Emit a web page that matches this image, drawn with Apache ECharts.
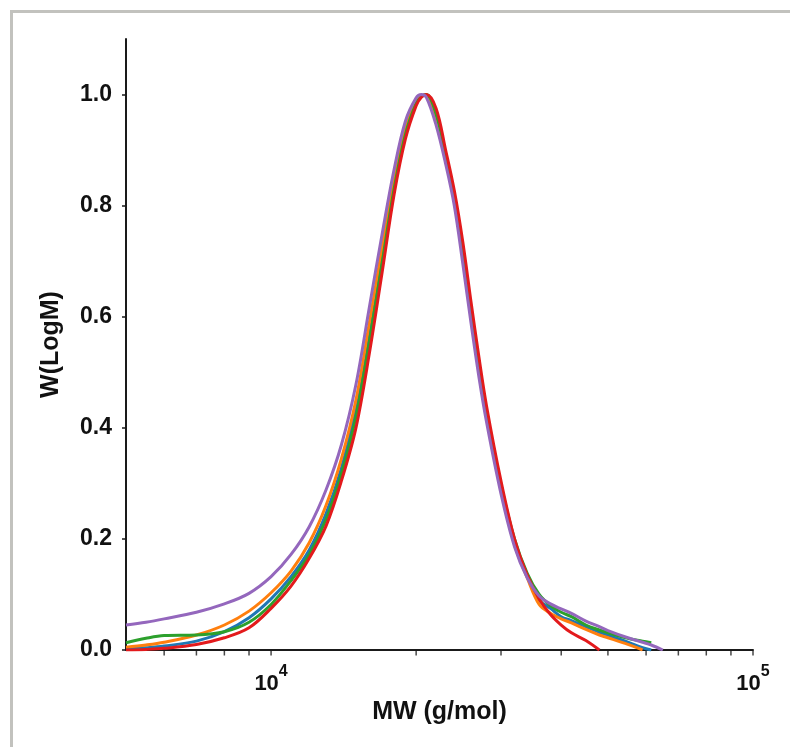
<!DOCTYPE html>
<html>
<head>
<meta charset="utf-8">
<title>W(LogM)</title>
<script src="https://cdn.jsdelivr.net/npm/echarts@6/dist/echarts.min.js"></script>
<style>
  html, body { margin: 0; padding: 0; background: #fff; }
  #chart { width: 790px; height: 747px; }
</style>
</head>
<body>
<div id="chart"></div>
<script>
  // molecular weight grid (g/mol), shared by all curves
  const mw = [5000, 5500, 6000, 7000, 8000, 9000, 10000, 11000, 12000, 13000,
    14000, 15000, 16000, 17000, 18000, 19000, 20000, 20500, 21000, 22000,
    23000, 24000, 25000, 26000, 27000, 28000, 30000, 32000, 34000, 36000,
    38000, 40000, 42000, 45000, 48000, 50000, 55000, 59000, 61500, 65000]

  // W(LogM), one array per curve
  const wBlue = [0.002, 0.004, 0.007, 0.016, 0.033, 0.058, 0.092, 0.132, 0.18, 0.245,
    0.328, 0.433, 0.572, 0.71, 0.838, 0.933, 0.986, 0.997, 0.999, 0.958,
    0.888, 0.81, 0.712, 0.605, 0.505, 0.422, 0.292, 0.193, 0.133, 0.09,
    0.075, 0.06, 0.053, 0.042, 0.032, 0.027, 0.014, 0.004, 0.0, null]
  const wOrange = [0.005, 0.009, 0.014, 0.027, 0.045, 0.07, 0.103, 0.142, 0.193, 0.26,
    0.345, 0.45, 0.59, 0.725, 0.848, 0.94, 0.99, 0.998, 0.999, 0.955,
    0.885, 0.808, 0.71, 0.603, 0.503, 0.42, 0.29, 0.19, 0.13, 0.082,
    0.066, 0.056, 0.049, 0.037, 0.027, 0.022, 0.01, 0.0, null, null]
  const wGreen = [0.013, 0.021, 0.026, 0.027, 0.033, 0.05, 0.082, 0.125, 0.172, 0.235,
    0.318, 0.42, 0.556, 0.697, 0.83, 0.928, 0.984, 0.996, 1.0, 0.965,
    0.895, 0.818, 0.722, 0.615, 0.515, 0.43, 0.298, 0.2, 0.138, 0.1,
    0.08, 0.068, 0.06, 0.045, 0.036, 0.031, 0.021, 0.016, 0.013, null]
  const wRed = [0.0, 0.001, 0.003, 0.01, 0.022, 0.04, 0.075, 0.115, 0.165, 0.223,
    0.305, 0.4, 0.535, 0.68, 0.82, 0.92, 0.98, 0.995, 1.0, 0.975,
    0.902, 0.827, 0.734, 0.626, 0.527, 0.439, 0.304, 0.2, 0.135, 0.092,
    0.064, 0.045, 0.031, 0.017, 0.0, null, null, null, null, null]
  const wPurple = [0.045, 0.05, 0.056, 0.068, 0.083, 0.102, 0.132, 0.172, 0.222, 0.288,
    0.37, 0.478, 0.618, 0.749, 0.865, 0.952, 0.994, 1.0, 0.995, 0.945,
    0.877, 0.80, 0.695, 0.588, 0.491, 0.41, 0.281, 0.186, 0.13, 0.097,
    0.083, 0.074, 0.066, 0.052, 0.042, 0.035, 0.022, 0.014, 0.009, 0.0]

  // x tick positions (log axis, 1..9 x decade)
  const xTicks = [6000, 7000, 8000, 9000, 10000, 20000, 30000, 40000, 50000,
    60000, 70000, 80000, 90000, 100000]

  const font = "'Liberation Sans', Arial, sans-serif"
  const axisColor = '#1a1a1a'

  function pairs (vals) {
    return mw.map((m, i) => [m, vals[i]])
  }

  function curve (name, vals, color) {
    return {
      name: name,
      type: 'line',
      data: pairs(vals),
      smooth: 0.35,
      showSymbol: false,
      lineStyle: { width: 3, color: color },
      itemStyle: { color: color },
      z: 3
    }
  }

  const chart = echarts.init(document.getElementById('chart'))
  chart.setOption({
    animation: false,
    backgroundColor: '#fff',
    graphic: [
      { type: 'rect', shape: { x: 10, y: 10, width: 780, height: 3 }, style: { fill: '#c2c2be' } },
      { type: 'rect', shape: { x: 10, y: 10, width: 3, height: 737 }, style: { fill: '#c2c2be' } }
    ],
    grid: { left: 126, right: 37, top: 39, bottom: 97 },
    xAxis: {
      type: 'log',
      logBase: 10,
      min: 5000,
      max: 100000,
      name: 'MW (g/mol)',
      nameLocation: 'middle',
      nameGap: 50,
      nameTextStyle: { fontFamily: font, fontSize: 25, fontWeight: 'bold', color: '#111' },
      axisLine: { lineStyle: { color: axisColor, width: 2 } },
      axisTick: { show: false },
      splitLine: { show: false },
      axisLabel: {
        margin: 14,
        formatter (v) {
          const p = Math.round(Math.log10(v))
          if (Math.abs(Math.log10(v) - p) > 1e-6 || p < 4) return ''
          return '{b|10}{s|' + p + '}'
        },
        rich: {
          b: { fontFamily: font, fontSize: 22, fontWeight: 'bold', color: '#111', lineHeight: 40 },
          s: { fontFamily: font, fontSize: 16, fontWeight: 'bold', color: '#111', verticalAlign: 'top', lineHeight: 16 }
        }
      }
    },
    yAxis: {
      type: 'value',
      min: 0,
      max: 1.1,
      interval: 0.2,
      name: 'W(LogM)',
      nameLocation: 'middle',
      nameGap: 62,
      nameTextStyle: { fontFamily: font, fontSize: 25, fontWeight: 'bold', color: '#111' },
      axisLine: { show: true, lineStyle: { color: axisColor, width: 2 } },
      axisTick: { show: true, length: 4, lineStyle: { color: axisColor, width: 1.5 } },
      splitLine: { show: false },
      axisLabel: {
        margin: 14,
        showMaxLabel: false,
        fontFamily: font,
        fontSize: 23,
        fontWeight: 'bold',
        color: '#111',
        formatter: v => v.toFixed(1)
      }
    },
    series: [
      {
        name: 'ticks',
        type: 'scatter',
        data: xTicks.map(t => [t, 0]),
        symbol: 'rect',
        symbolSize: [1.5, 5],
        symbolOffset: [0, 3],
        itemStyle: { color: axisColor },
        clip: false,
        silent: true,
        z: 1
      },
      curve('blue', wBlue, '#1f77b4'),
      curve('orange', wOrange, '#ff7f0e'),
      curve('green', wGreen, '#2ca02c'),
      curve('red', wRed, '#e31a1c'),
      curve('purple', wPurple, '#9467bd')
    ]
  })
</script>
</body>
</html>
